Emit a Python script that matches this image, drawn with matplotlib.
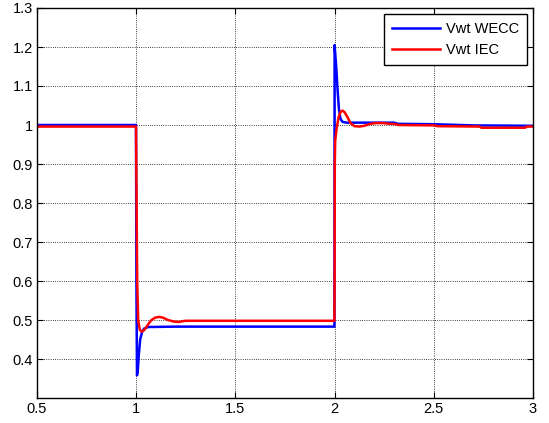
import matplotlib
matplotlib.use("Agg")
import matplotlib.pyplot as plt

plt.rcParams["font.family"] = ["Liberation Sans", "DejaVu Sans"]

# Vwt WECC model response
t_wecc = [0.5, 0.999, 1.001, 1.004, 1.008, 1.013, 1.02, 1.03, 1.04, 1.06, 1.2,
          1.999, 2.0, 2.008, 2.015, 2.022, 2.03, 2.04, 2.06, 2.3, 2.32, 2.5, 2.7, 3.0]
v_wecc = [1.0, 1.0, 0.6, 0.358, 0.37, 0.41, 0.45, 0.47, 0.478, 0.482, 0.483,
          0.483, 1.205, 1.15, 1.09, 1.04, 1.015, 1.008, 1.006, 1.006, 1.003, 1.002, 0.999, 0.998]

# Vwt IEC model response
t_iec = [0.5, 0.999, 1.002, 1.005, 1.01, 1.018, 1.028, 1.04, 1.055, 1.075, 1.095,
         1.115, 1.135, 1.16, 1.19, 1.215, 1.235, 1.25, 1.999,
         2.0, 2.001, 2.003, 2.01, 2.02, 2.03, 2.04, 2.05, 2.065, 2.08, 2.1, 2.125,
         2.15, 2.18, 2.21, 2.24, 2.28, 2.31, 2.32, 2.5, 2.52, 2.73, 2.74, 2.96, 2.97, 3.0]
v_iec = [0.996, 0.996, 0.8, 0.6, 0.5, 0.475, 0.47, 0.474, 0.485, 0.499, 0.506,
         0.508, 0.506, 0.5, 0.496, 0.495, 0.497, 0.498, 0.498,
         0.6, 0.9, 0.96, 0.99, 1.02, 1.033, 1.037, 1.033, 1.02, 1.005, 0.997, 0.996,
         0.998, 1.003, 1.005, 1.005, 1.003, 1.002, 1.0, 0.999, 0.997, 0.996, 0.993, 0.993, 0.996, 0.996]

x_ticks = [0.5, 1, 1.5, 2, 2.5, 3]
x_labels = ["0.5", "1", "1.5", "2", "2.5", "3"]
y_ticks = [0.4, 0.5, 0.6, 0.7, 0.8, 0.9, 1.0, 1.1, 1.2, 1.3]
y_labels = ["0.4", "0.5", "0.6", "0.7", "0.8", "0.9", "1", "1.1", "1.2", "1.3"]

fig = plt.figure(figsize=(5.49, 4.23), dpi=100)
ax = fig.add_axes([37 / 549, 1 - 398 / 423, 496 / 549, 390 / 423])

ax.plot(t_wecc, v_wecc, color="#0000ff", lw=1.8, label="Vwt WECC")
ax.plot(t_iec, v_iec, color="#ff0000", lw=1.8, label="Vwt IEC")

ax.set_xlim(0.5, 3)
ax.set_ylim(0.3, 1.3)
ax.set_xticks(x_ticks)
ax.set_xticklabels(x_labels)
ax.set_yticks(y_ticks)
ax.set_yticklabels(y_labels)
ax.tick_params(direction="in", length=4, width=0.8, labelsize=10.5, top=True, right=True, pad=3)
ax.grid(True, color="black", linestyle=":", linewidth=0.6)
for s in ax.spines.values():
    s.set_linewidth(1.0)

leg = ax.legend(loc="upper right", fontsize=10.5, handlelength=3.3, handletextpad=0.4,
                fancybox=False, framealpha=1, edgecolor="black", borderpad=0.55,
                borderaxespad=0.4, labelspacing=0.5)
leg.get_frame().set_linewidth(1.0)

fig.savefig("out.png", dpi=100)
